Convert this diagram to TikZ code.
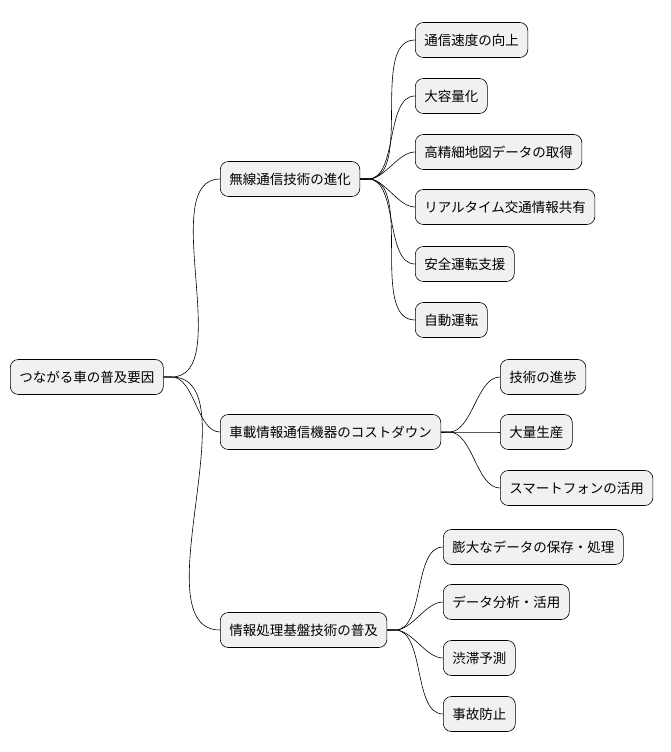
\documentclass[tikz,border=0pt]{standalone}
\usepackage{fontspec}
\setmainfont{Noto Sans CJK JP}
\begin{document}
\begin{tikzpicture}[x=1pt,y=-1pt,
  box/.style={draw=black,fill={rgb,255:red,241;green,241;blue,241},rounded corners=8pt,
    minimum height=35pt,inner xsep=9pt,anchor=west,font=\fontsize{13.5}{15}\selectfont,line width=0.6pt},
  conn/.style={draw=black,line width=0.6pt}]
\useasboundingbox (0,0) rectangle (670,752);
\node[box] (r) at (10,377) {つながる車の普及要因};
\node[box] (a) at (220,179) {無線通信技術の進化};
\node[box] (b) at (220,432) {車載情報通信機器のコストダウン};
\node[box] (c) at (220,630) {情報処理基盤技術の普及};
\node[box] (a1) at (415,40) {通信速度の向上};
\node[box] (a2) at (415,96) {大容量化};
\node[box] (a3) at (415,152) {高精細地図データの取得};
\node[box] (a4) at (415,207) {リアルタイム交通情報共有};
\node[box] (a5) at (415,264) {安全運転支援};
\node[box] (a6) at (415,320) {自動運転};
\node[box] (b1) at (500,377) {技術の進歩};
\node[box] (b2) at (500,432) {大量生産};
\node[box] (b3) at (500,488) {スマートフォンの活用};
\node[box] (c1) at (443,547) {膨大なデータの保存・処理};
\node[box] (c2) at (443,602) {データ分析・活用};
\node[box] (c3) at (443,658) {渋滞予測};
\node[box] (c4) at (443,714) {事故防止};
\foreach \p/\k in {r/a,r/b,r/c,a/a1,a/a2,a/a3,a/a4,a/a5,a/a6,b/b1,b/b2,b/b3,c/c1,c/c2,c/c3,c/c4}
  \draw[conn] (\p.east) -- ++(8,0) to[out=0,in=180,looseness=0.8] (\k.west);
\end{tikzpicture}
\end{document}
